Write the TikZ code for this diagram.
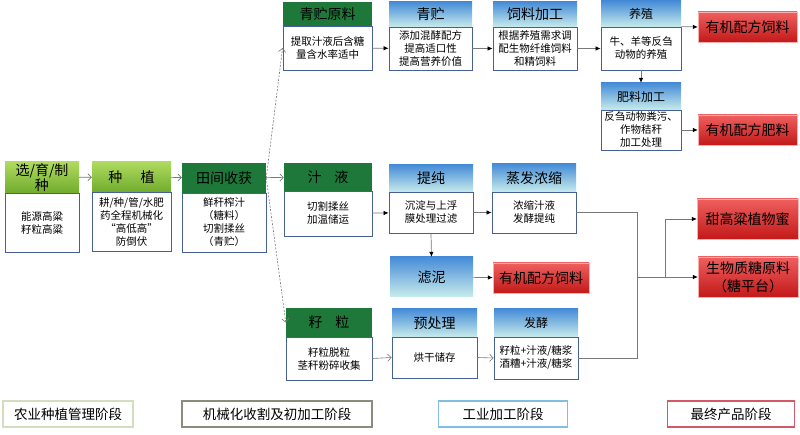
\documentclass[tikz,border=0pt]{standalone}
\usepackage{fontspec}
\setmainfont{Noto Sans CJK SC}
\usetikzlibrary{arrows.meta,calc}
\definecolor{lgA}{RGB}{175,218,95}
\definecolor{lgB}{RGB}{112,172,45}
\definecolor{dg}{RGB}{30,120,58}
\definecolor{blA}{RGB}{70,140,215}
\definecolor{blB}{RGB}{200,236,236}
\definecolor{rdA}{RGB}{240,95,95}
\definecolor{rdB}{RGB}{195,25,25}
\definecolor{bdr}{RGB}{70,95,150}
\definecolor{lnc}{RGB}{120,120,120}
\definecolor{lgd1}{RGB}{210,222,190}
\definecolor{lgd2}{RGB}{140,140,125}
\definecolor{lgd3}{RGB}{130,190,225}
\definecolor{lgd4}{RGB}{210,90,100}
\tikzset{
 hdr/.style={inner sep=0pt, font=\fontsize{14}{15}\selectfont, align=center},
 hlg/.style={hdr, top color=lgA, bottom color=lgB},
 hdg/.style={hdr, fill=dg},
 hbl/.style={hdr, top color=blA, bottom color=blB},
 bodybox/.style={draw=bdr, line width=0.8pt, fill=white, inner sep=0pt, align=center, font=\fontsize{10.5}{13}\selectfont},
 redbox/.style={draw=rdA!50!white, top color=rdA, bottom color=rdB, inner sep=0pt, align=center, font=\fontsize{14}{18}\selectfont},
 fa/.style={draw=lnc, line width=0.7pt, -{Latex[length=5pt,width=4.5pt,color=black]}},
 oa/.style={draw=lnc, line width=0.6pt, -{Straight Barb[length=3.5pt,width=7pt]}},
 da/.style={oa, dash pattern=on 2pt off 1.5pt},
 plain/.style={draw=lnc, line width=0.7pt},
 leg/.style={line width=1.2pt, inner sep=0pt, minimum height=26, font=\fontsize{13.5}{15}\selectfont}
}
\newcommand\twobox[9]{%
 \node[#7, minimum width={#5-#2}, minimum height={#4-#3}] (#1h) at ({(#2+#5)/2},{(#3+#4)/2}) {#8};
 \node[bodybox, minimum width={#5-#2}, minimum height={#6-#4}] (#1) at ({(#2+#5)/2},{(#4+#6)/2}) {#9};
}
\newcommand\onebox[7]{%
 \node[#6, minimum width={#4-#2}, minimum height={#5-#3}] (#1) at ({(#2+#4)/2},{(#3+#5)/2}) {#7};
}
\begin{document}
\begin{tikzpicture}[x=1pt,y=-1pt]
\fill[white] (0,0) rectangle (800,435);
\useasboundingbox (0,0) rectangle (800,435);
% left chain
\twobox{a}{5}{162}{193}{79}{252}{hlg}{选/育/制\\种}{能源高粱\\籽粒高粱}
\twobox{b}{92}{162}{192}{171}{251}{hlg}{种\hspace{1.3em}植}{耕/种/管/水肥\\药全程机械化\\“高低高”\\防倒伏}
\twobox{c}{182}{163}{193}{266}{252}{hdg}{田间收获}{鲜秆榨汁\\（糖料）\\切割揉丝\\（青贮）}
% top row
\twobox{qy}{283}{2}{26}{372}{70}{hdg}{青贮原料}{提取汁液后含糖\\量含水率适中}
\twobox{qz}{389}{2}{27}{472}{70}{hbl}{青贮}{添加混酵配方\\提高适口性\\提高营养价值}
\twobox{sl}{493}{2}{27}{577}{70}{hbl}{饲料加工}{根据养殖需求调\\配生物纤维饲料\\和精饲料}
\twobox{yz}{601}{1}{27}{681}{70}{hbl}{\fontsize{12}{13}\selectfont 养殖}{牛、羊等反刍\\动物的养殖}
\twobox{fl}{601}{83}{110}{681}{150}{hbl}{\fontsize{12}{13}\selectfont 肥料加工}{反刍动物粪污、\\作物秸秆\\加工处理}
\onebox{r1}{698}{12}{797}{42}{redbox}{有机配方饲料}
\onebox{r2}{698}{115}{797}{145}{redbox}{有机配方肥料}
% middle row
\twobox{zy}{284}{163}{191}{372}{236}{hdg}{汁\hspace{0.9em}液}{切割揉丝\\加温储运}
\twobox{tc}{389}{165}{192}{473}{233}{hbl}{提纯}{沉淀与上浮\\膜处理过滤}
\twobox{zf}{492}{164}{192}{576}{233}{hbl}{蒸发浓缩}{浓缩汁液\\发酵提纯}
\onebox{lni}{390}{257}{473}{297}{hbl}{滤泥}
\onebox{r3}{493}{263}{589}{293}{redbox}{有机配方饲料}
\onebox{r4}{697}{199}{798}{239}{redbox}{甜高粱植物蜜}
\onebox{r5}{698}{257}{798}{297}{redbox}{生物质糖原料\\（糖平台）}
% bottom row
\twobox{zl}{286}{308}{337}{372}{380}{hdg}{籽\hspace{0.9em}粒}{籽粒脱粒\\茎秆粉碎收集}
\twobox{yc}{392}{309}{337}{477}{378}{hbl}{预处理}{烘干储存}
\twobox{fj}{494}{309}{337}{578}{379}{hbl}{\fontsize{12}{13}\selectfont 发酵}{籽粒+汁液/糖浆\\酒糟+汁液/糖浆}
% legend
\node[leg, draw=lgd1, minimum width=130] (l1) at (68,414) {农业种植管理阶段};
\node[leg, draw=lgd2, minimum width=190] (l2) at (277,414) {机械化收割及初加工阶段};
\node[leg, draw=lgd3, minimum width=129] (l3) at (503,414) {工业加工阶段};
\node[leg, draw=lgd4, minimum width=127] (l4) at (731,414) {最终产品阶段};
% connectors
\draw[oa] (ah) -- (bh);
\draw[oa] (bh) -- (ch);
\draw[oa] (ch) -- (zyh);
\draw[da] (ch.east) -- (qy.west);
\draw[da] (ch.east) -- (zlh.west);
\draw[fa] (qy) -- (qz);
\draw[fa] (qz) -- (sl);
\draw[fa] (sl) -- (yz);
\draw[fa] (yz.north east) -- (r1.west);
\draw[fa] (yz.south) -- (flh.north);
\draw[fa] (fl) -- (r2);
\draw[fa] (zy) -- (tc);
\draw[fa] (tc) -- (zf);
\draw[fa] (tc.south) -- (lni.north);
\draw[fa] (lni) -- (r3);
\draw[oa] (zl.east) -- (yc.west);
\draw[oa] (yc.east) -- (fj.west);
\coordinate (j) at (637,277);
\coordinate (k) at (665,277);
\draw[plain] (zf.east) -| (j);
\draw[plain] (fj.east) -| (j);
\draw[fa] (j) -- (r5.west);
\draw[fa] (k) |- (r4.west);
\end{tikzpicture}
\end{document}
